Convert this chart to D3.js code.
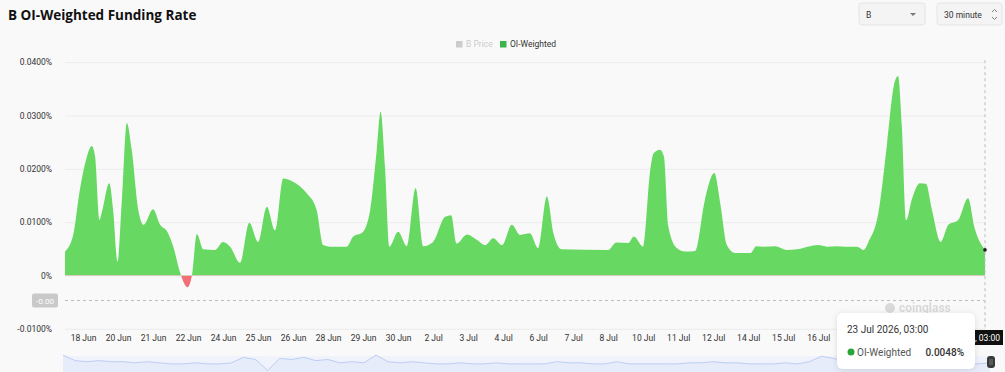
<!DOCTYPE html>
<html>
<head>
<meta charset="utf-8">
<script src="https://cdn.jsdelivr.net/npm/d3@7"></script>
<style>
  body { margin: 0; background: #f9f9f9; font-family: Roboto, "Noto Sans", sans-serif; }
  .axis text { font-family: Roboto, sans-serif; font-size: 8.5px; fill: #333; }
  .axis path, .axis line { display: none; }
  .grid line { stroke: #ececec; }
  .grid path { display: none; }
</style>
</head>
<body>
<div id="chart"></div>
<script>

// funding rate, in %, hours after 18 Jun 2026 02:00 (30 minute bars)
var hours = [0, 7.5, 13.5, 18.5, 24.5, 27.5, 31.5, 33.5, 40.5, 44, 48, 52, 56.5, 61, 67, 72, 80.5, 87, 93.5, 99,
  105, 112, 116, 120.5, 126.5, 137, 144.5, 151, 160, 168.5, 176.5, 184.5, 192, 199.5, 208.5, 221, 230, 236, 242.5, 257.5,
  263.5, 271.5, 279, 285, 288.5, 292.5, 296.5, 304.5, 312.5, 320.5, 327.5, 336.5, 347.5, 353, 358, 367.5, 376.5, 384, 391.5, 399.5,
  408.5, 416, 425, 432.5, 440.5, 446.5, 454, 496.5, 504, 515, 520, 528.5, 535, 538, 544, 547.5, 551.5, 559.5, 567, 576,
  585, 593.5, 599, 605, 612.5, 626.5, 632, 638.5, 649, 660, 669, 688.5, 696.5, 705.5, 713, 724, 730, 734.5, 743.5, 751.5,
  757.5, 761.5, 765, 769, 774, 781.5, 787, 792.5, 800.5, 807.5, 816.5, 825.5, 831.5, 841];

var rates = [0.0045, 0.0076, 0.0160, 0.0211, 0.0243, 0.0223, 0.0104, 0.0117, 0.0173, 0.0123, 0.0026, 0.0142, 0.0286, 0.0236, 0.0123, 0.0095, 0.0124, 0.0095, 0.0082, 0.0054,
  0.0007, -0.0022, 0.0000, 0.0078, 0.0049, 0.0048, 0.0063, 0.0054, 0.0024, 0.0099, 0.0063, 0.0129, 0.0085, 0.0182, 0.0176, 0.0154, 0.0123, 0.0057, 0.0054, 0.0054,
  0.0073, 0.0080, 0.0123, 0.0236, 0.0307, 0.0204, 0.0054, 0.0082, 0.0055, 0.0164, 0.0055, 0.0063, 0.0110, 0.0113, 0.0060, 0.0077, 0.0067, 0.0057, 0.0070, 0.0057,
  0.0095, 0.0076, 0.0079, 0.0051, 0.0148, 0.0079, 0.0049, 0.0048, 0.0062, 0.0061, 0.0073, 0.0054, 0.0198, 0.0229, 0.0236, 0.0223, 0.0092, 0.0051, 0.0045, 0.0046,
  0.0142, 0.0192, 0.0135, 0.0057, 0.0042, 0.0042, 0.0055, 0.0054, 0.0055, 0.0048, 0.0049, 0.0057, 0.0054, 0.0055, 0.0054, 0.0054, 0.0048, 0.0063, 0.0117, 0.0248,
  0.0354, 0.0374, 0.0279, 0.0104, 0.0142, 0.0173, 0.0172, 0.0123, 0.0063, 0.0095, 0.0104, 0.0145, 0.0089, 0.0048];

var yTicks = [-0.01, 0, 0.01, 0.02, 0.03, 0.04];
var yLabels = ["-0.0100%", "0%", "0.0100%", "0.0200%", "0.0300%", "0.0400%"];

// category labels, one every 64 bars (32 h), first one 16.5 h in
// (the ones after 16 Jul sit under the tooltip, so they are left out)
var tickLabels = ["18 Jun", "20 Jun", "21 Jun", "22 Jun", "24 Jun", "25 Jun", "26 Jun", "28 Jun", "29 Jun", "30 Jun",
  "2 Jul", "3 Jul", "4 Jul", "6 Jul", "7 Jul", "8 Jul", "10 Jul", "11 Jul", "12 Jul", "14 Jul", "15 Jul", "16 Jul"];

// overview strip under the chart (B price shadow, relative units)
var sparkValues = [9, 4, 3, 4, 3, 3, 2, 3, 2, 1, 1, 2, 1, 1, 2, 7, 5, -5, 6, 5, 7, 4, 5, 2, 3, 2, 9, 3, 2, 3,
  2, 1, 1, 2, 1, 1, 2, 1, 1, 1, 1, 3, 2, 2, 1, 1, 3, 1, 1, 1, 1, 1, 2, 2, 3, 2, 2, 1, 1, 1,
  2, 1, 3, 8, 6, 3, 2, 3, 2, 2, 1, 2, 3, 2, 2, 1, 1, 2];

var startTime = new Date(2026, 5, 18, 2, 0);
function hoursToDate(h) { return new Date(startTime.getTime() + h * 3600e3); }

function makeChart() {
  var width = 1005, height = 372;
  var plotLeft = 65, plotRight = 985, plotTop = 62.2, plotBottom = 328.8;

  var svg = d3.select("#chart").append("svg")
    .attr("width", width)
    .attr("height", height);

  var defs = svg.append("defs");
  var shadow = defs.append("filter").attr("id", "shadow").attr("x", "-20%").attr("y", "-30%").attr("width", "140%").attr("height", "160%");
  shadow.append("feDropShadow").attr("dx", 0).attr("dy", 1).attr("stdDeviation", 3).attr("flood-color", "#000").attr("flood-opacity", 0.12);

  var xScale = d3.scaleTime().domain([startTime, hoursToDate(841)]).range([plotLeft, plotRight]);
  var yScale = d3.scaleLinear().domain([-0.01, 0.04]).range([plotBottom, plotTop]);

  var data = hours.map(function (h, i) { return { t: hoursToDate(h), v: rates[i] }; });

  // title
  svg.append("text")
    .attr("x", 8).attr("y", 20)
    .style("font-family", "'Open Sans', 'Noto Sans', sans-serif")
    .style("font-weight", "700")
    .style("font-size", "13.5px")
    .style("fill", "#111")
    .text("B OI-Weighted Funding Rate");

  // top right selectors
  function selectBox(x, w, label) {
    var g = svg.append("g").attr("transform", "translate(" + x + ",3)");
    g.append("rect").attr("width", w).attr("height", 22).attr("rx", 3)
      .attr("fill", "#f4f4f4").attr("stroke", "#e4e4e4");
    g.append("text").attr("x", 7).attr("y", 15)
      .style("font-size", "8.5px").style("fill", "#333").text(label);
    return g;
  }
  var symBox = selectBox(859, 66, "B");
  symBox.append("path").attr("d", "M51,10 L57,10 L54,13 Z").attr("fill", "#777");
  var intBox = selectBox(937, 65, "30 minute");
  intBox.append("path").attr("d", "M55,9 L57.5,6.5 L60,9 M55,14 L57.5,16.5 L60,14")
    .attr("fill", "none").attr("stroke", "#777").attr("stroke-width", 0.9);

  // legend
  var legend = svg.append("g").attr("transform", "translate(456,44)");
  legend.append("rect").attr("x", 0).attr("y", -3).attr("width", 6.5).attr("height", 6.5).attr("fill", "#ccc");
  legend.append("text").attr("x", 10).attr("y", 3).style("font-size", "8.5px").style("fill", "#ccc").text("B Price");
  legend.append("rect").attr("x", 44).attr("y", -3).attr("width", 6.5).attr("height", 6.5).attr("fill", "#3cb44b");
  legend.append("text").attr("x", 54).attr("y", 3).style("font-size", "8.5px").style("fill", "#333").text("OI-Weighted");

  // grid + y axis
  svg.append("g")
    .attr("class", "grid")
    .attr("transform", "translate(" + plotLeft + ",0)")
    .call(d3.axisRight(yScale).tickValues(yTicks).tickSize(plotRight - plotLeft).tickFormat(""));

  svg.append("g")
    .attr("class", "axis")
    .attr("transform", "translate(" + (plotLeft - 10) + ",0)")
    .call(d3.axisLeft(yScale).tickValues(yTicks).tickSize(0)
      .tickFormat(function (d, i) { return yLabels[i]; }));

  // x axis
  var tickDates = tickLabels.map(function (l, i) { return hoursToDate(16.5 + 32 * i); });
  svg.append("g")
    .attr("class", "axis")
    .attr("transform", "translate(0," + (plotBottom + 3) + ")")
    .call(d3.axisBottom(xScale).tickValues(tickDates).tickSize(0)
      .tickFormat(function (d, i) { return tickLabels[i]; }));

  // area, green above zero, red below
  defs.append("clipPath").attr("id", "above").append("rect")
    .attr("x", plotLeft).attr("y", 0).attr("width", plotRight - plotLeft).attr("height", yScale(0));
  defs.append("clipPath").attr("id", "below").append("rect")
    .attr("x", plotLeft).attr("y", yScale(0)).attr("width", plotRight - plotLeft).attr("height", height - yScale(0));

  var area = d3.area()
    .curve(d3.curveMonotoneX)
    .x(function (d) { return xScale(d.t); })
    .y0(yScale(0))
    .y1(function (d) { return yScale(d.v); });

  svg.append("path").datum(data).attr("d", area).attr("fill", "#67d963").attr("clip-path", "url(#above)");
  svg.append("path").datum(data).attr("d", area).attr("fill", "#f36f78").attr("clip-path", "url(#below)");

  // watermark
  var wm = svg.append("g").attr("transform", "translate(884,308)").style("opacity", 0.5);
  wm.append("circle").attr("cx", 6).attr("cy", 0).attr("r", 5).attr("fill", "#bbb");
  wm.append("text").attr("x", 15).attr("y", 4).style("font-size", "12px").style("font-weight", "700")
    .style("fill", "#bbb").text("coinglass");

  // crosshair
  var last = data[data.length - 1];
  var pointerY = yScale(-0.0047);
  svg.append("line")
    .attr("x1", xScale(last.t)).attr("x2", xScale(last.t))
    .attr("y1", plotTop - 2).attr("y2", plotBottom + 4)
    .attr("stroke", "#bbb").attr("stroke-dasharray", "3,3");
  svg.append("line")
    .attr("x1", plotLeft).attr("x2", xScale(last.t))
    .attr("y1", pointerY).attr("y2", pointerY)
    .attr("stroke", "#bbb").attr("stroke-dasharray", "3,3");
  svg.append("rect").attr("x", 32).attr("y", pointerY - 7).attr("width", 26).attr("height", 14)
    .attr("rx", 2).attr("fill", "#c9c9c9");
  svg.append("text").attr("x", 45).attr("y", pointerY + 3).attr("text-anchor", "middle")
    .style("font-size", "8px").style("fill", "#fff").text("-0.00");
  svg.append("circle").attr("cx", xScale(last.t)).attr("cy", yScale(last.v)).attr("r", 1.8).attr("fill", "#222");

  // overview slider
  var sparkX = d3.scaleLinear().domain([0, sparkValues.length - 1]).range([63, 990]);
  var sparkY = d3.scaleLinear().domain([0, 10]).range([365, 354]);
  svg.append("rect").attr("x", 63).attr("y", 356).attr("width", 927).attr("height", 20).attr("fill", "#f0f3fb");
  svg.append("path").datum(sparkValues)
    .attr("d", d3.area()
      .x(function (d, i) { return sparkX(i); })
      .y0(372)
      .y1(function (d) { return sparkY(d); }))
    .attr("fill", "#e6ecf9");
  svg.append("path").datum(sparkValues)
    .attr("d", d3.line()
      .x(function (d, i) { return sparkX(i); })
      .y(function (d) { return sparkY(d); }))
    .attr("fill", "none").attr("stroke", "#a9bfef").attr("stroke-width", 0.7);
  svg.append("rect").attr("x", 987).attr("y", 356).attr("width", 8).attr("height", 12).attr("rx", 3).attr("fill", "#3a3a3a");
  svg.append("line").attr("x1", 990).attr("x2", 990).attr("y1", 359).attr("y2", 365).attr("stroke", "#aaa").attr("stroke-width", 0.6);
  svg.append("line").attr("x1", 992).attr("x2", 992).attr("y1", 359).attr("y2", 365).attr("stroke", "#aaa").attr("stroke-width", 0.6);

  // axis pointer label, mostly hidden behind the tooltip
  var fmt = d3.timeFormat("%-d %b %Y, %H:%M");
  defs.append("clipPath").attr("id", "pointerClip").append("rect")
    .attr("x", 975).attr("y", 325).attr("width", 30).attr("height", 25);
  var pointerLabel = svg.append("g").attr("clip-path", "url(#pointerClip)");
  pointerLabel.append("rect").attr("x", 905).attr("y", 330).attr("width", 98).attr("height", 15).attr("fill", "#111");
  pointerLabel.append("text").attr("x", 1000).attr("y", 341).attr("text-anchor", "end")
    .style("font-size", "8.5px").style("fill", "#fff").text(fmt(last.t));

  // tooltip
  var tip = svg.append("g").attr("transform", "translate(837,313)");
  tip.append("rect").attr("width", 138).attr("height", 56).attr("rx", 6)
    .attr("fill", "#fff").attr("filter", "url(#shadow)");
  tip.append("text").attr("x", 10).attr("y", 20)
    .style("font-size", "10px").style("fill", "#333").text(fmt(last.t));
  tip.append("circle").attr("cx", 14).attr("cy", 39).attr("r", 3.5).attr("fill", "#2aa53a");
  tip.append("text").attr("x", 20).attr("y", 43)
    .style("font-size", "10px").style("fill", "#555").text("OI-Weighted");
  tip.append("text").attr("x", 127).attr("y", 43).attr("text-anchor", "end")
    .style("font-size", "10px").style("fill", "#333").style("font-weight", "500").text(last.v.toFixed(4) + "%");
}

makeChart();

</script>
</body>
</html>
